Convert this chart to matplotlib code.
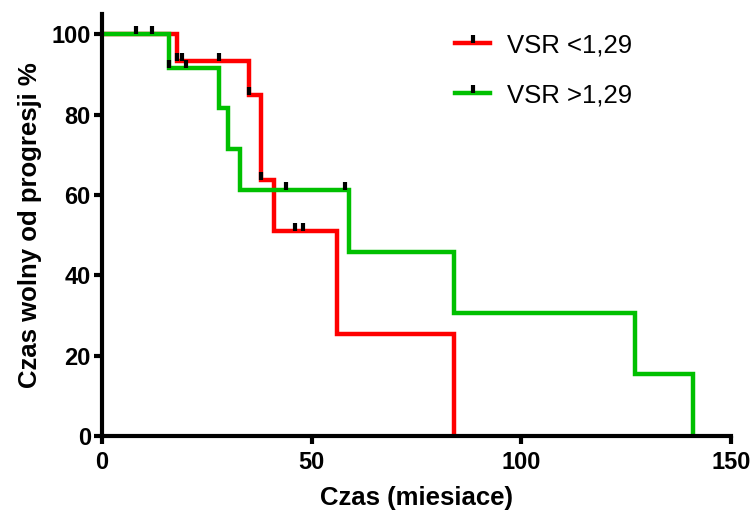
import matplotlib
matplotlib.use("Agg")
import matplotlib.pyplot as plt
from matplotlib.lines import Line2D
from matplotlib.path import Path

# Kaplan-Meier steps: change times (months) and survival (%) after each step
low_times = [0, 18, 35, 38, 41, 56, 84]
low_surv = [100, 93.3, 84.8, 63.8, 51.0, 25.5, 0]
low_cens_t = [18, 19, 28, 35, 38, 46, 48]
low_cens_s = [93.3, 93.3, 93.3, 84.8, 63.8, 51.0, 51.0]

high_times = [0, 16, 28, 30, 33, 59, 84, 127, 141]
high_surv = [100, 91.7, 81.7, 71.3, 61.2, 45.8, 30.7, 15.4, 0]
high_cens_t = [8, 12, 16, 20, 44, 58]
high_cens_s = [100, 100, 91.7, 91.7, 61.2, 61.2]

labels = ["VSR <1,29", "VSR >1,29"]
colors = ["#ff0000", "#00c000"]

plt.rcParams["font.family"] = ["Liberation Sans", "DejaVu Sans"]

# censor tick: vertical bar rising from the curve
tick = Path([(0, 0), (0, 1)])

fig = plt.figure(figsize=(7.56, 5.13), dpi=100)
ax = fig.add_axes([0.1349, 0.150, 0.832, 0.8226])

lw = 3.2
for t, s, col in [(low_times, low_surv, colors[0]), (high_times, high_surv, colors[1])]:
    ax.step(t, s, where="post", color=col, lw=lw, solid_joinstyle="miter", zorder=2)

for t, s in [(low_cens_t, low_cens_s), (high_cens_t, high_cens_s)]:
    ax.plot(t, s, ls="none", marker=tick, ms=11.5, mew=3.0, mec="black", zorder=3)

ax.set_xlim(0, 150)
ax.set_ylim(0, 105)
ax.set_xticks([0, 50, 100, 150])
ax.set_yticks([0, 20, 40, 60, 80, 100])
for side in ["top", "right"]:
    ax.spines[side].set_visible(False)
for side in ["left", "bottom"]:
    ax.spines[side].set_linewidth(3.0)
ax.tick_params(width=3.0, length=5.5, labelsize=17)
ax.tick_params(axis="x", pad=5)
ax.tick_params(axis="y", pad=2.5)
for lab in ax.get_xticklabels() + ax.get_yticklabels():
    lab.set_fontweight("bold")

ax.set_xlabel("Czas (miesiace)", fontsize=18.5, fontweight="bold", labelpad=9)
ax.set_ylabel("Czas wolny od progresji %", fontsize=18.5, fontweight="bold", labelpad=7)

handles = [
    (Line2D([], [], color=c, lw=lw),
     Line2D([], [], ls="none", marker=tick, ms=11.5, mew=3.0, mec="black"))
    for c in colors
]
fig.legend(handles, labels, loc="upper left", bbox_to_anchor=(0.602, 0.935),
           bbox_transform=fig.transFigure, frameon=False, fontsize=18.5,
           handlelength=1.36, handletextpad=0.66, labelspacing=1.0,
           borderpad=0, borderaxespad=0)

fig.savefig("out.png", dpi=100)
